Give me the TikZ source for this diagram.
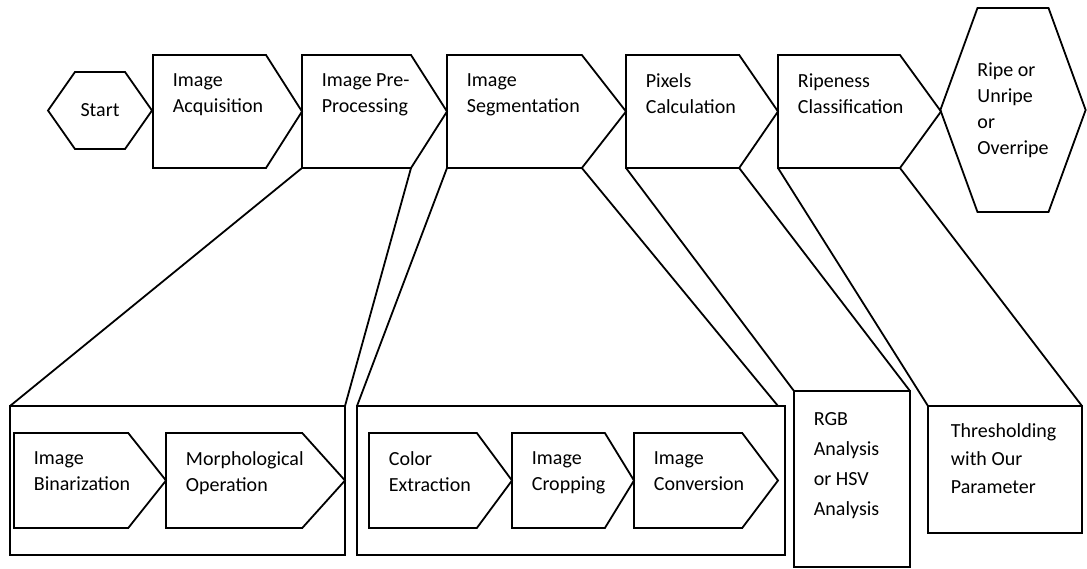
\documentclass[tikz,border=0pt]{standalone}
\usepackage{fontspec}
\setmainfont{Carlito}
\usetikzlibrary{shapes.symbols,positioning}

\begin{document}
\begin{tikzpicture}[x=0.5pt,y=-0.5pt,line width=0.9pt,
  stage/.style={signal,signal to=east,draw,inner sep=0pt,outer sep=0pt,anchor=north west},
  hexa/.style={signal,signal to=west and east,draw,inner sep=0pt,outer sep=0pt,align=left,font=\fontsize{10pt}{13pt}\selectfont},
  box/.style={rectangle,draw,inner sep=0pt,outer sep=0pt,anchor=north west},
  lbl/.style={anchor=north west,inner sep=0pt,align=left,xshift=9.5pt,yshift=-9pt,font=\fontsize{10pt}{13pt}\selectfont}]
\useasboundingbox (0,0) rectangle (1087,568);
% main flow
\node[hexa,minimum width=52pt,minimum height=38.5pt,signal pointer angle=110] (start) at (100,110.5) {Start};
\node[stage,minimum width=74.5pt,minimum height=56.5pt,signal pointer angle=115,label={[lbl]north west:Image\\Acquisition}] (acq) at (153,55) {};
\node[stage,right=0pt of acq,minimum width=72.5pt,minimum height=56.5pt,signal pointer angle=115,label={[lbl]north west:Image Pre-\\Processing}] (pre) {};
\node[stage,right=0pt of pre,minimum width=89.5pt,minimum height=56.5pt,signal pointer angle=104,label={[lbl]north west:Image\\Segmentation}] (seg) {};
\node[stage,right=0pt of seg,minimum width=76pt,minimum height=56.5pt,signal pointer angle=111,label={[lbl]north west:Pixels\\Calculation}] (pix) {};
\node[stage,right=0pt of pix,minimum width=81.5pt,minimum height=56.5pt,signal pointer angle=108,label={[lbl]north west:Ripeness\\Classification}] (rip) {};
\node[hexa,minimum width=72pt,minimum height=102pt,signal pointer angle=140] (out) at (1013,110) {Ripe or\\Unripe\\or\\Overripe};

% detail boxes
\node[box,minimum width=167.5pt,minimum height=74.5pt] (lft) at (10,406) {};
\node[box,minimum width=214pt,minimum height=74.5pt] (mid) at (357,406) {};
\node[box,minimum width=58pt,minimum height=88pt,label={[lbl,yshift=-1.5pt,font=\fontsize{10pt}{15pt}\selectfont]north west:RGB\\Analysis\\or HSV\\Analysis}] (rgb) at (794,391) {};
\node[box,minimum width=77pt,minimum height=63.5pt,label={[lbl,xshift=1.5pt,yshift=0.5pt,font=\fontsize{10pt}{14pt}\selectfont]north west:Thresholding\\with Our\\Parameter}] (thr) at (928,406) {};

\node[stage,minimum width=76pt,minimum height=47.5pt,signal pointer angle=103,label={[lbl]north west:Image\\Binarization}] (bin) at (14,433) {};
\node[stage,right=0pt of bin,minimum width=89.5pt,minimum height=47.5pt,signal pointer angle=96,label={[lbl]north west:Morphological\\Operation}] (mor) {};
\node[stage,minimum width=71.5pt,minimum height=47.5pt,signal pointer angle=107,label={[lbl]north west:Color\\Extraction}] (col) at (369,433) {};
\node[stage,right=0pt of col,minimum width=61pt,minimum height=47.5pt,signal pointer angle=117,label={[lbl]north west:Image\\Cropping}] (cro) {};
\node[stage,right=0pt of cro,minimum width=72pt,minimum height=47.5pt,signal pointer angle=106,label={[lbl]north west:Image\\Conversion}] (con) {};

% zoom lines
\draw (pre.south west) -- (lft.north west);
\draw (pre.south east) -- (lft.north east);
\draw (seg.south west) -- (mid.north west);
\draw (seg.south east) -- ([xshift=-3.5pt]mid.north east);
\draw (pix.south west) -- (rgb.north west);
\draw (pix.south east) -- (rgb.north east);
\draw (rip.south west) -- (thr.north west);
\draw (rip.south east) -- (thr.north east);
\end{tikzpicture}
\end{document}
